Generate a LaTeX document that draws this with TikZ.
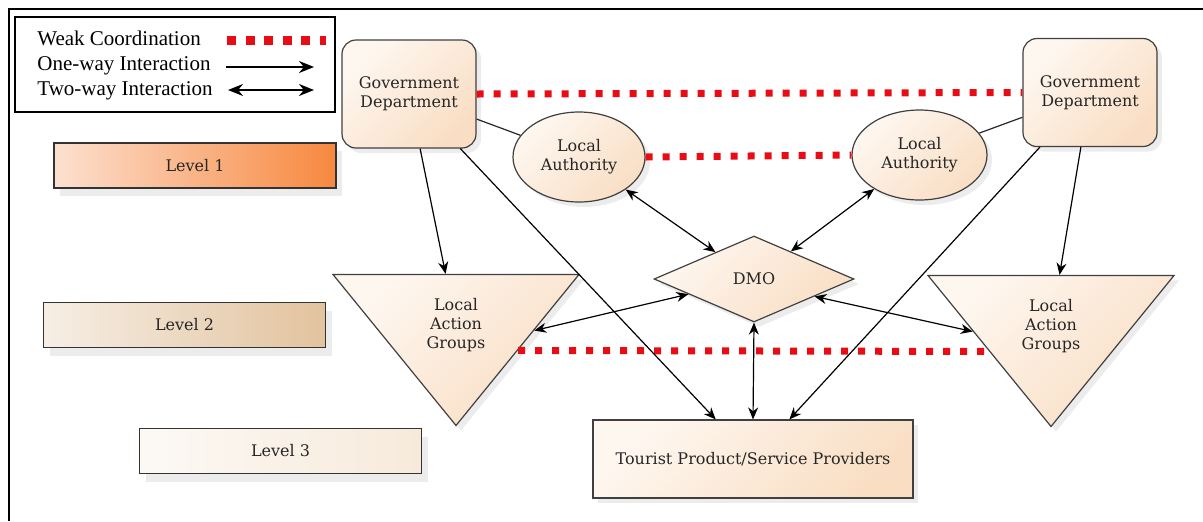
\documentclass[tikz,border=0pt]{standalone}
\usepackage{fontspec}
\setmainfont{Liberation Serif}
\newfontfamily\boxfont{DejaVu Serif}
\usetikzlibrary{shapes.geometric,arrows.meta,shadows,calc}

\definecolor{weakred}{RGB}{232,12,20}
\definecolor{peachlight}{RGB}{254,247,240}
\definecolor{peachdark}{RGB}{249,222,196}
\definecolor{lvlonea}{RGB}{252,224,208}
\definecolor{lvloneb}{RGB}{247,136,62}
\definecolor{lvltwoa}{RGB}{246,238,229}
\definecolor{lvltwob}{RGB}{226,195,158}
\definecolor{lvlthreea}{RGB}{252,249,245}
\definecolor{lvlthreeb}{RGB}{247,234,219}

\tikzset{
  boxtext/.style={font=\boxfont\fontsize{8}{9.5}\selectfont, align=center, text=black!85},
  peach/.style={draw=black!75, line width=0.6pt, top color=peachlight, bottom color=peachdark, shading angle=45,
    drop shadow={opacity=0.15, shadow xshift=2.5pt, shadow yshift=-2.5pt}},
  govbox/.style={peach, boxtext, rounded corners=7pt, minimum width=67pt, minimum height=54pt},
  authority/.style={peach, boxtext, ellipse, minimum width=66pt, minimum height=45pt, inner sep=0pt},
  dmobox/.style={peach, boxtext, diamond, minimum width=100pt, minimum height=43pt, inner sep=0pt},
  groups/.style={peach, boxtext, isosceles triangle, isosceles triangle stretches, shape border rotate=270,
    minimum width=123pt, minimum height=75.5pt, inner sep=0pt},
  providers/.style={peach, boxtext, minimum width=160pt, minimum height=39pt},
  levelbox/.style={boxtext, draw=black!80, line width=0.6pt, minimum width=141pt, minimum height=22.5pt,
    drop shadow={opacity=0.15, shadow xshift=3pt, shadow yshift=-4pt}},
  legendtxt/.style={anchor=base west, font=\fontsize{10.5}{12}\selectfont, inner sep=0pt},
  weak/.style={color=weakred, line width=3.5pt, dash pattern=on 3.5pt off 5pt},
  oneway/.style={color=black, line width=0.6pt, -{Stealth[length=6pt,width=5pt]}},
  twoway/.style={color=black, line width=0.6pt, {Stealth[length=6pt,width=5pt]}-{Stealth[length=6pt,width=5pt]}},
  plain/.style={color=black!85, line width=0.6pt},
}

\begin{document}
\begin{tikzpicture}[x=0.5pt, y=-0.5pt]
	\useasboundingbox (0,0) rectangle (1203,521);
	\draw[line width=1.4pt] (9,521) -- (9,9) -- (1203,9);
	
	% legend
	\node[draw, line width=0.9pt, minimum width=160pt, minimum height=47.5pt] (legend) at (175,64.5) {};
	\node[legendtxt] (weakTxt) at (37,45) {Weak Coordination};
	\node[legendtxt] (oneTxt) at (37,70) {One-way Interaction};
	\node[legendtxt] (twoTxt) at (37,95) {Two-way Interaction};
	\coordinate (weakA) at (227,40);
	\coordinate (weakB) at (326,40);
	\coordinate (oneA) at (226,67);
	\coordinate (oneB) at (314,67);
	\coordinate (twoA) at (228,90);
	\coordinate (twoB) at (314,90);
	\path[weak, line width=4.5pt, dash pattern=on 4.5pt off 4.8pt] (weakA) edge (weakB);
	\path[oneway, line width=1pt, -{Stealth[length=7.5pt,width=6pt]}] (oneA) edge (oneB);
	\path[twoway, line width=1pt, {Stealth[length=7.5pt,width=6pt]}-{Stealth[length=7.5pt,width=6pt]}] (twoA) edge (twoB);
	
	% levels
	\node[levelbox, left color=lvlonea, right color=lvloneb] (lvl1) at (195,165.5) {Level 1};
	\node[levelbox, left color=lvltwoa, right color=lvltwob] (lvl2) at (184.5,325) {Level 2};
	\node[levelbox, left color=lvlthreea, right color=lvlthreeb] (lvl3) at (280.5,451) {Level 3};
	
	% actors
	\node[govbox] (govL) at (409,94) {Government\\Department};
	\node[govbox] (govR) at (1090,92.5) {Government\\Department};
	\node[authority] (laL) at (579,157) {Local\\Authority};
	\node[authority, minimum width=67.5pt] (laR) at (919.5,155) {Local\\Authority};
	\node[dmobox] (dmo) at (754,279) {DMO};
	\node[groups] (lagL) at (456,325) {Local\\Action\\Groups};
	\node[groups] (lagR) at (1051,326) {Local\\Action\\Groups};
	\node[providers] (tpsp) at (753,459) {Tourist Product/Service Providers};
	
	% weak coordination
	\path[weak] (govL.east) edge (govR.west);
	\path[weak] (laL.east) edge (laR.west);
	\path[weak] (lagL.left side) edge (lagR.right side);
	
	\path[plain] (govL) edge (laL);
	\path[plain] (govR) edge (laR);
	
	\path[oneway] (govL) edge (lagL);
	\path[oneway] (govL) edge (tpsp);
	\path[oneway] (govR) edge (lagR);
	\path[oneway] (govR) edge (tpsp);
	
	\path[twoway] (laL) edge (dmo);
	\path[twoway] (laR) edge (dmo);
	\path[twoway] (dmo.193) edge ($(lagL.left corner)!0.37!(lagL.apex)$);
	\path[twoway] (dmo.-16) edge ($(lagR.right corner)!0.37!(lagR.apex)$);
	\path[twoway] (dmo.south) edge (tpsp.north);
\end{tikzpicture}
\end{document}
